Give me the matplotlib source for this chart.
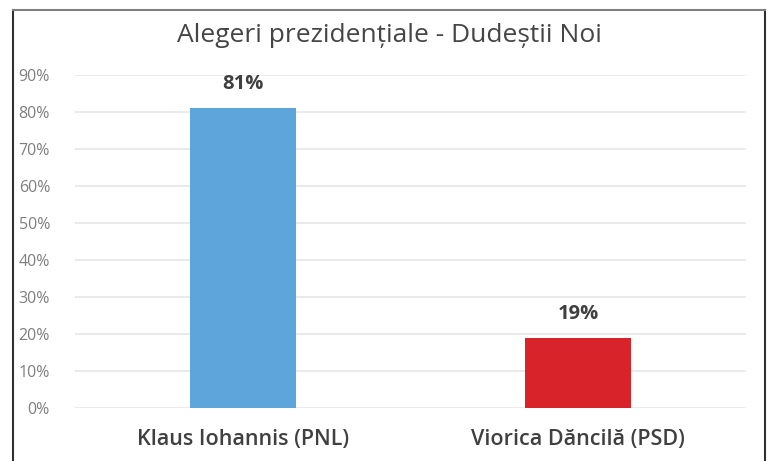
import matplotlib
matplotlib.use("Agg")
import matplotlib.pyplot as plt
from matplotlib.lines import Line2D

# Date
candidati = ["Klaus Iohannis (PNL)", "Viorica Dăncilă (PSD)"]
procente = [0.81, 0.19]
culori = ["#5DA5DA", "#D9232A"]
etichete = ["81%", "19%"]
y_ticks = [0.0, 0.1, 0.2, 0.3, 0.4, 0.5, 0.6, 0.7, 0.8, 0.9]
titlu = "Alegeri prezidențiale - Dudeștii Noi"

W, H = 777, 461
plt.rcParams["font.family"] = ["Open Sans", "DejaVu Sans"]

fig = plt.figure(figsize=(W / 100, H / 100), dpi=100)
fig.patch.set_facecolor("white")

ax = fig.add_axes([75 / W, 1 - 408 / H, (746 - 75) / W, (408 - 75) / H])

x = list(range(len(candidati)))
ax.bar(x, procente, width=0.315, color=culori, zorder=3)

for xi, v, lab in zip(x, procente, etichete):
    ax.text(xi, v + 0.065, lab, ha="center", va="center",
            fontsize=14.5, fontweight="bold", color="#404040")

ax.set_xlim(-0.5, 1.5)
ax.set_ylim(0, 0.9)
ax.set_yticks(y_ticks)
ax.set_yticklabels([f"{int(round(t * 100))}%" for t in y_ticks],
                   fontsize=11.5, color="#7F7F7F")
ax.set_xticks(x)
ax.set_xticklabels(candidati, fontsize=15.5, color="#404040", fontweight="semibold")
ax.tick_params(axis="both", length=0)
ax.tick_params(axis="x", pad=15)
ax.tick_params(axis="y", pad=18)
ax.grid(axis="y", color="#E6E6E6", linewidth=1.2, zorder=0)
for s in ax.spines.values():
    s.set_visible(False)

fig.text(0.5 * (176 + 603) / W, 1 - 35 / H, titlu, ha="center", va="center",
         fontsize=19, color="#454545")

# chenar
fig.add_artist(Line2D([13 / W, 13 / W], [0, 1 - 10 / H], transform=fig.transFigure,
                      color="#303030", linewidth=1.5))
fig.add_artist(Line2D([765 / W, 765 / W], [0, 1 - 10 / H], transform=fig.transFigure,
                      color="#303030", linewidth=1.5))
fig.add_artist(Line2D([13 / W, 765 / W], [1 - 10 / H, 1 - 10 / H], transform=fig.transFigure,
                      color="#808080", linewidth=1.5))

fig.savefig("out.png", dpi=100)
